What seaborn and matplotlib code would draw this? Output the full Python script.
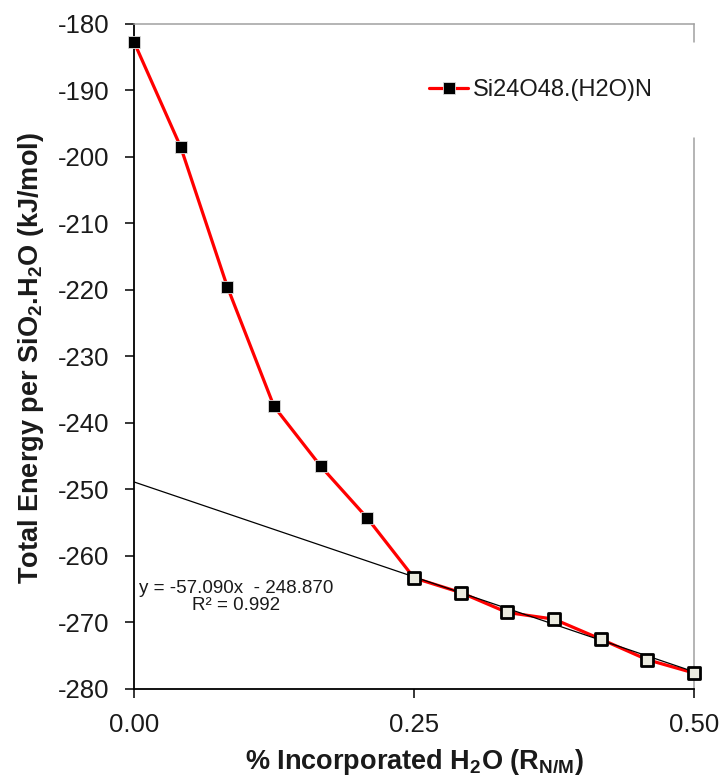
import numpy as np
import pandas as pd
import matplotlib
matplotlib.use("Agg")
import matplotlib.pyplot as plt
import seaborn as sns

# Water fraction and total energy per SiO2.H2O unit
x_frac = [0.0, 0.0417, 0.0833, 0.125, 0.1667, 0.2083, 0.25,
          0.2917, 0.3333, 0.375, 0.4167, 0.4583, 0.5]
energy = [-182.7, -198.5, -219.5, -237.5, -246.5, -254.3, -263.3,
          -265.5, -268.5, -269.5, -272.5, -275.6, -277.6]
series_name = "Si24O48.(H2O)N"

# Linear fit over the high-water branch (points from 0.25 on)
fit_slope = -57.090
fit_intercept = -248.870
fit_r2 = 0.992
fit_x = [0.0, 0.5]

x_ticks = [0.0, 0.25, 0.5]
x_tick_labels = ["0.00", "0.25", "0.50"]
y_ticks = [-280, -270, -260, -250, -240, -230, -220, -210, -200, -190, -180]

sns.set_style("white")
plt.rcParams["font.family"] = ["Liberation Sans", "DejaVu Sans"]
plt.rcParams["axes.unicode_minus"] = False
plt.rcParams["mathtext.fontset"] = "custom"
plt.rcParams["mathtext.rm"] = "Liberation Sans"
plt.rcParams["mathtext.bf"] = "Liberation Sans:bold"

df = pd.DataFrame({"x": x_frac, "E": energy})
open_pts = df[df["x"] >= 0.25]
fit_df = pd.DataFrame({"x": fit_x})
fit_df["E"] = fit_slope * fit_df["x"] + fit_intercept

fig = plt.figure(figsize=(7.27, 7.83), dpi=100)
ax = fig.add_axes([0.1843, 0.1201, 0.7703, 0.8493])

text_color = "#1a1a1a"

# main series: red line with filled black squares
sns.lineplot(data=df, x="x", y="E", ax=ax, color="red", lw=2.3,
             marker="s", markersize=8, markerfacecolor="black",
             markeredgecolor="#dddddd", markeredgewidth=0.6,
             label=series_name, zorder=3, clip_on=False)
# trend line
sns.lineplot(data=fit_df, x="x", y="E", ax=ax, color="black", lw=0.9,
             zorder=3.5, legend=False)
# open squares on the fitted branch
sns.scatterplot(data=open_pts, x="x", y="E", ax=ax, marker="s", s=72,
                facecolor="#ebebe0", edgecolor="black", linewidth=2.0,
                zorder=4, legend=False, clip_on=False)

ax.set_xlim(0, 0.5)
ax.set_ylim(-280, -180)
ax.set_xticks(x_ticks)
ax.set_xticklabels(x_tick_labels)
ax.set_yticks(y_ticks)
ax.tick_params(axis="both", labelsize=18.5, colors=text_color)
ax.tick_params(axis="x", direction="out", length=6.5, width=1.1,
               pad=11, color="black", bottom=True)
ax.tick_params(axis="y", direction="out", length=6.5, width=1.1,
               pad=11, color="black", left=True)

ax.set_xlabel("% Incorporated H$_\\mathbf{2}$O (R$_\\mathbf{N/M}$)",
              fontsize=19.5, fontweight="bold", color=text_color)
ax.set_ylabel("Total Energy per SiO$_\\mathbf{2}$.H$_\\mathbf{2}$O (kJ/mol)",
              fontsize=19.5, fontweight="bold", color=text_color)
ax.xaxis.set_label_coords(0.5, -0.088)
ax.yaxis.set_label_coords(-0.158, 0.497)

# spines: black left/bottom, grey top, grey right broken behind legend
for side in ("left", "bottom"):
    ax.spines[side].set_color("black")
    ax.spines[side].set_linewidth(1.3)
ax.spines["top"].set_color("#a0a0a0")
ax.spines["top"].set_linewidth(1.1)
ax.spines["right"].set_visible(False)
ax.plot([1, 1], [0, 0.829], transform=ax.transAxes, color="#a0a0a0",
        lw=1.1, clip_on=False, zorder=2.5)
ax.plot([1, 1], [0.973, 1], transform=ax.transAxes, color="#a0a0a0",
        lw=1.1, clip_on=False, zorder=2.5)

leg = ax.legend(loc="center left", bbox_to_anchor=(0.527, 0.901),
                frameon=False, fontsize=17, handlelength=1.65,
                handletextpad=0.2, borderpad=0, borderaxespad=0)
for t in leg.get_texts():
    t.set_color(text_color)

eq_text = (f"y = {fit_slope:.3f}x  - {abs(fit_intercept):.3f}\n"
           f"R\u00b2 = {fit_r2:.3f}")
ax.text(0.182, 0.139, eq_text, transform=ax.transAxes, ha="center",
        va="center", multialignment="center", fontsize=13.5,
        color=text_color, linespacing=1.0)

fig.savefig("out.png", dpi=100)
